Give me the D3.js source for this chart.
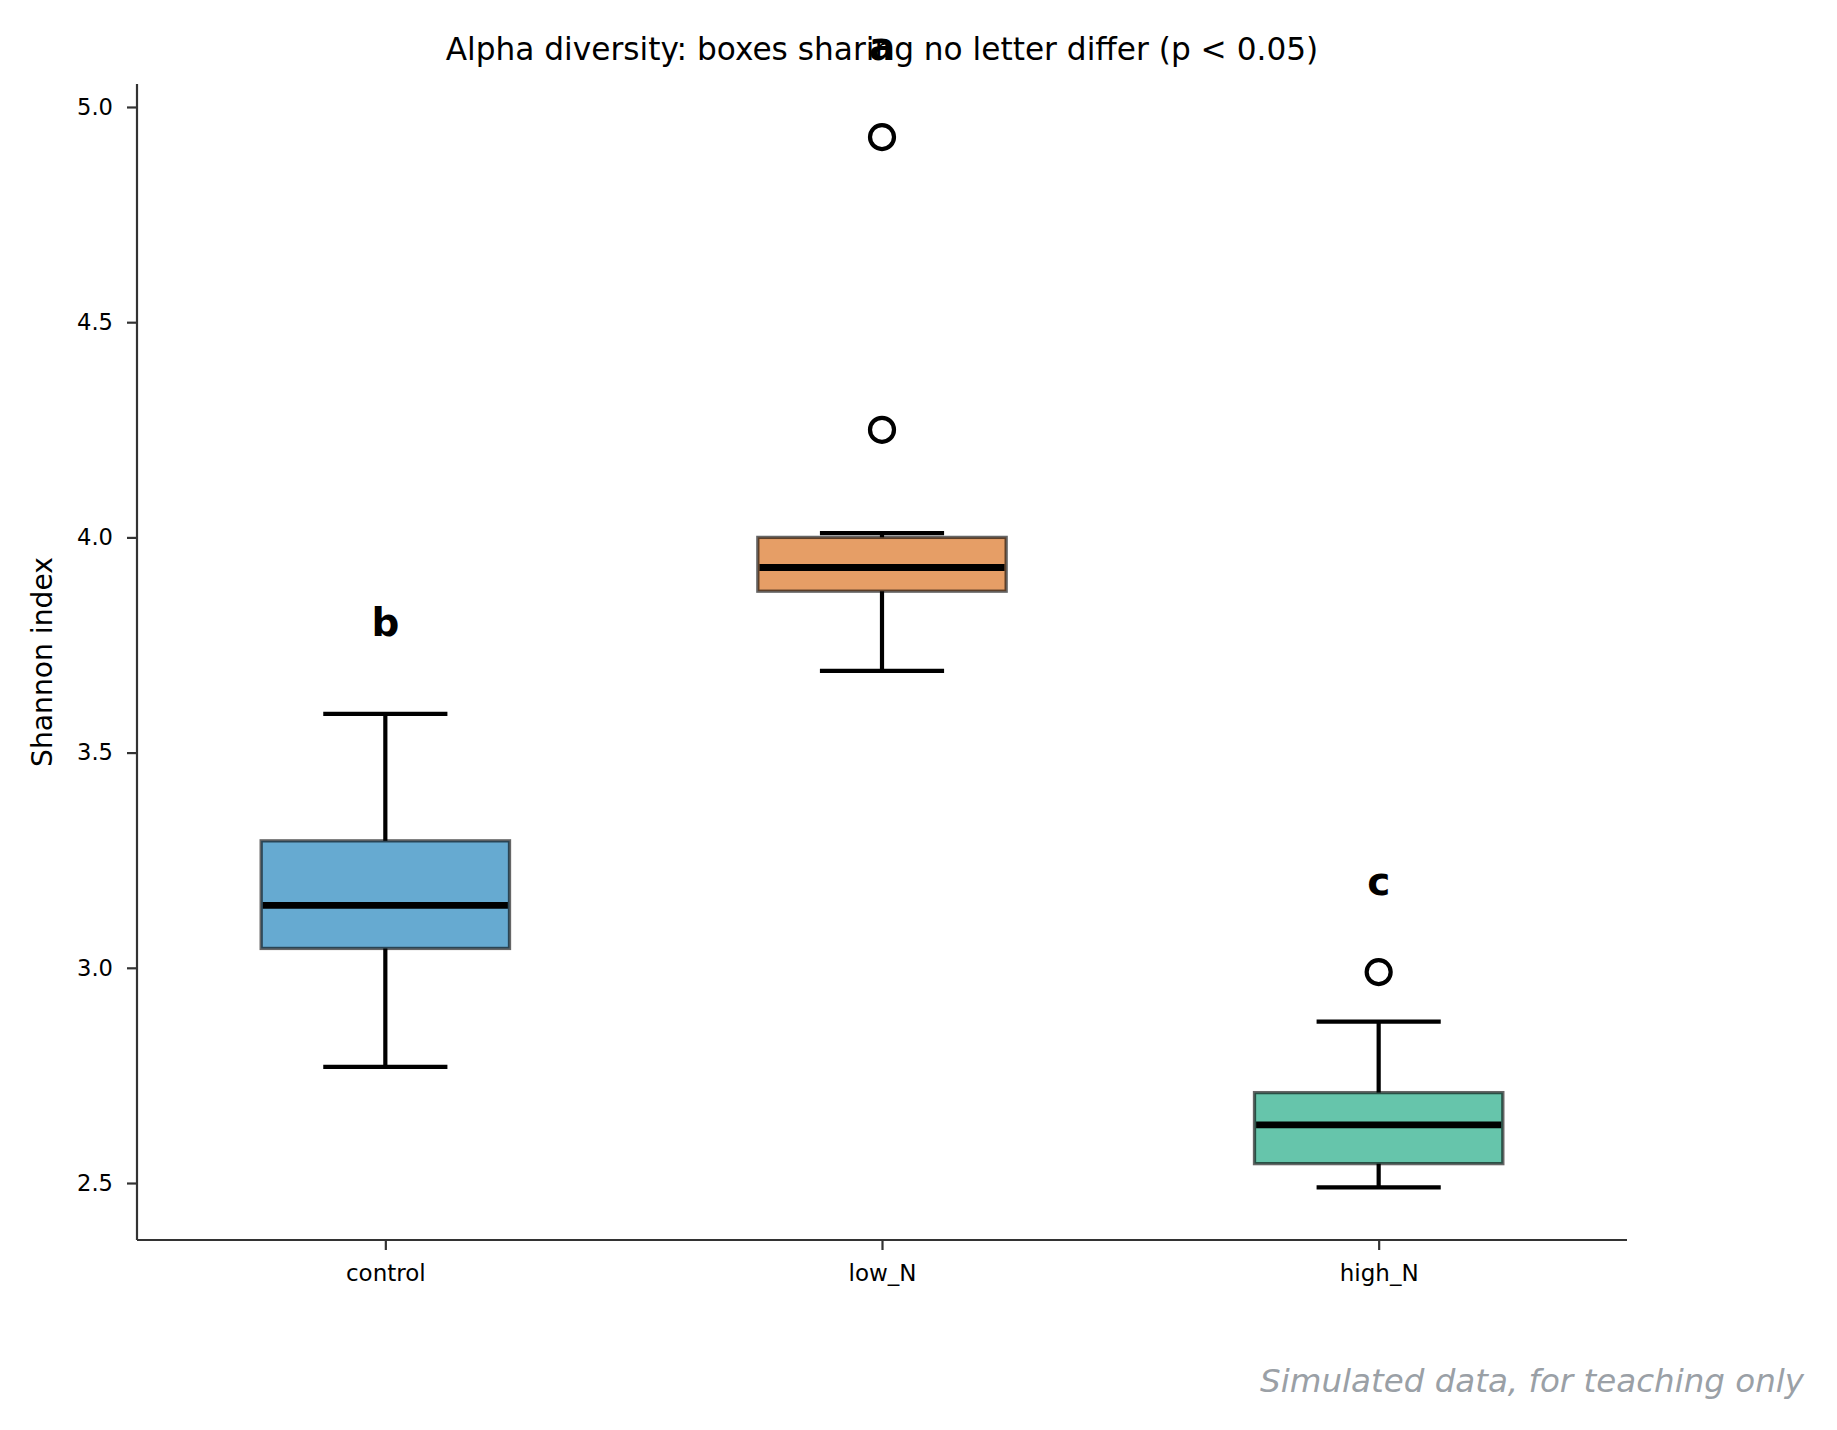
<!DOCTYPE html>
<html><head><meta charset="utf-8">
<script src="https://cdn.jsdelivr.net/npm/d3@7"></script>
<style>body{margin:0;background:#fff;} svg{display:block;font-family:"DejaVu Sans",sans-serif;}</style>
</head><body>
<svg id="chart" width="1837" height="1430"></svg>
<script>
const groups = ["control", "low_N", "high_N"];
const colors = ["#0072B2", "#D55E00", "#009E73"];
const whiskerLow = [2.77, 3.69, 2.49];
const q1 = [3.045, 3.875, 2.545];
const medians = [3.145, 3.93, 2.635];
const q3 = [3.295, 4.0, 2.71];
const whiskerHigh = [3.59, 4.01, 2.875];
const outliers = [[], [4.25, 4.93], [2.99]];
const letters = ["b", "a", "c"];
const yTicks = [2.5, 3.0, 3.5, 4.0, 4.5, 5.0];
const yDomain = [2.3676, 5.0534];

const svg = d3.select("#chart");
const mLeft = 137, mRight = 1627, mTop = 84, mBottom = 1240;
const x = d3.scaleLinear().domain([0.5, 3.5]).range([mLeft, mRight]);
const y = d3.scaleLinear().domain(yDomain).range([mBottom, mTop]);
const letterOffset = 0.18;

const boxes = groups.map((g, i) => ({g, i, pos: i + 1, c: colors[i], lo: whiskerLow[i], q1: q1[i], med: medians[i], q3: q3[i], hi: whiskerHigh[i], out: outliers[i], letter: letters[i]}));

const gb = svg.append("g");
boxes.forEach(b => {
  const g = gb.append("g");
  const lw = 4.2;
  g.append("line").attr("x1", x(b.pos)).attr("x2", x(b.pos)).attr("y1", y(b.q3)).attr("y2", y(b.hi)).attr("stroke", "#000").attr("stroke-width", lw);
  g.append("line").attr("x1", x(b.pos)).attr("x2", x(b.pos)).attr("y1", y(b.q1)).attr("y2", y(b.lo)).attr("stroke", "#000").attr("stroke-width", lw);
  g.append("line").attr("x1", x(b.pos - 0.125)).attr("x2", x(b.pos + 0.125)).attr("y1", y(b.hi)).attr("y2", y(b.hi)).attr("stroke", "#000").attr("stroke-width", lw);
  g.append("line").attr("x1", x(b.pos - 0.125)).attr("x2", x(b.pos + 0.125)).attr("y1", y(b.lo)).attr("y2", y(b.lo)).attr("stroke", "#000").attr("stroke-width", lw);
  g.append("rect").attr("x", x(b.pos - 0.25)).attr("width", x(b.pos + 0.25) - x(b.pos - 0.25))
    .attr("y", y(b.q3)).attr("height", y(b.q1) - y(b.q3))
    .attr("fill", b.c).attr("fill-opacity", 0.6)
    .attr("stroke", "#000").attr("stroke-opacity", 0.6).attr("stroke-width", 3.3);
  g.append("line").attr("x1", x(b.pos - 0.25) + 1.6).attr("x2", x(b.pos + 0.25) - 1.6).attr("y1", y(b.med)).attr("y2", y(b.med)).attr("stroke", "#000").attr("stroke-width", 6.9);
  g.selectAll("circle").data(b.out).join("circle")
    .attr("cx", x(b.pos)).attr("cy", d => y(d)).attr("r", 12)
    .attr("fill", "none").attr("stroke", "#000").attr("stroke-width", 4.2);
  const maxVal = d3.max([b.hi].concat(b.out));
  g.append("text").attr("x", x(b.pos)).attr("y", y(maxVal + letterOffset))
    .attr("text-anchor", "middle").attr("font-size", 38.9).attr("font-weight", "bold").text(b.letter);
});

const yAxis = d3.axisLeft(y).tickValues(yTicks).tickFormat(d3.format(".1f")).tickSize(10).tickPadding(14);
const ya = svg.append("g").attr("transform", `translate(${mLeft},0)`).call(yAxis);
ya.select(".domain").attr("d", `M0,${mTop}V${mBottom}`).attr("stroke", "#333").attr("stroke-width", 2.2);
ya.selectAll(".tick line").attr("stroke", "#333").attr("stroke-width", 2.2);
ya.selectAll(".tick text").attr("font-size", 22.6).attr("fill", "#000").attr("font-family", "DejaVu Sans");

const xAxis = d3.axisBottom(x).tickValues([1, 2, 3]).tickFormat(d => groups[d - 1]).tickSize(10).tickPadding(15);
const xa = svg.append("g").attr("transform", `translate(0,${mBottom})`).call(xAxis);
xa.select(".domain").attr("d", `M${mLeft},0H${mRight}`).attr("stroke", "#333").attr("stroke-width", 2.2);
xa.selectAll(".tick line").attr("stroke", "#333").attr("stroke-width", 2.2);
xa.selectAll(".tick text").attr("font-size", 23).attr("fill", "#000").attr("font-family", "DejaVu Sans");

svg.append("text").attr("transform", `translate(52,${(mTop + mBottom) / 2}) rotate(-90)`)
  .attr("text-anchor", "middle").attr("font-size", 28.2).text("Shannon index");
svg.append("text").attr("x", (mLeft + mRight) / 2).attr("y", 60).attr("text-anchor", "middle")
  .attr("font-size", 31.2).text("Alpha diversity: boxes sharing no letter differ (p < 0.05)");
svg.append("text").attr("x", 1804).attr("y", 1392).attr("text-anchor", "end")
  .attr("font-size", 32.5).attr("font-style", "italic").attr("fill", "#9aa0a6").text("Simulated data, for teaching only");
</script>
</body></html>
